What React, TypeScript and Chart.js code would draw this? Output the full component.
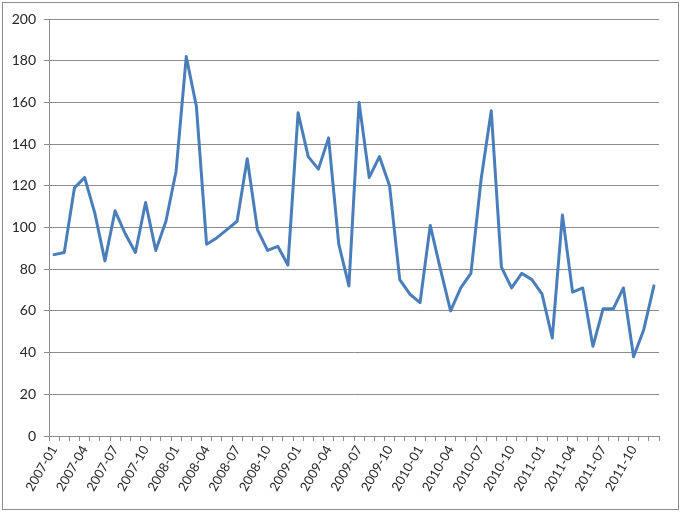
import React, { useEffect, useRef } from "react";
import { Chart, registerables } from "chart.js";

Chart.register(...registerables);

const months: string[] = [];
for (let y = 2007; y <= 2011; y++) {
  for (let m = 1; m <= 12; m++) {
    months.push(`${y}-${m < 10 ? "0" + m : m}`);
  }
}

const values: number[] = [
  87, 88, 119, 124, 107, 84, 108, 97, 88, 112, 89, 103,
  127, 182, 158, 92, 95, 99, 103, 133, 99, 89, 91, 82,
  155, 134, 128, 143, 92, 72, 160, 124, 134, 120, 75, 68,
  64, 101, 80, 60, 71, 78, 123, 156, 81, 71, 78, 75,
  68, 47, 106, 69, 71, 43, 61, 61, 71, 38, 51, 72,
];

const yMin = 0;
const yMax = 200;
const yStep = 20;

const borderPlugin = {
  id: "outerBorder",
  afterDraw(chart: any) {
    const ctx = chart.ctx;
    ctx.save();
    ctx.strokeStyle = "#8c8c8c";
    ctx.lineWidth = 1;
    ctx.strokeRect(2.5, 2.5, chart.width - 5, chart.height - 5);
    ctx.restore();
  },
};

export default function App() {
  const ref = useRef<HTMLCanvasElement | null>(null);
  useEffect(() => {
    document.body.style.margin = "0";
    if (!ref.current) return;
    const chart = new Chart(ref.current, {
      type: "line",
      data: {
        labels: months,
        datasets: [
          {
            data: values,
            borderColor: "#4a7ebb",
            borderWidth: 3,
            borderJoinStyle: "round",
            borderCapStyle: "round",
            pointRadius: 0,
            tension: 0,
            fill: false,
          },
        ],
      },
      options: {
        animation: false,
        responsive: false,
        maintainAspectRatio: false,
        plugins: { legend: { display: false }, tooltip: { enabled: false } },
        layout: { padding: { left: 0, right: 22, top: 19, bottom: 0 } },
        scales: {
          x: {
            type: "category",
            offset: true,
            grid: {
              offset: true,
              drawOnChartArea: false,
              drawTicks: true,
              tickLength: 5,
              color: "#8c8c8c",
            },
            border: { color: "#8c8c8c", width: 1 },
            ticks: {
              autoSkip: false,
              maxRotation: 60,
              minRotation: 60,
              padding: 2,
              color: "#262626",
              font: { family: "Lato", size: 13 },
              callback: (_v: any, i: number) => (i % 3 === 0 ? months[i] : ""),
            },
            afterFit: (s: any) => {
              s.height = 512 - 436;
            },
          },
          y: {
            min: yMin,
            max: yMax,
            grid: { color: "#8c8c8c", tickLength: 5, drawTicks: true },
            border: { color: "#8c8c8c", width: 1 },
            ticks: {
              stepSize: yStep,
              padding: 8,
              color: "#262626",
              font: { family: "Lato", size: 14 },
            },
            afterFit: (s: any) => {
              s.width = 49;
            },
          },
        },
      },
      plugins: [borderPlugin],
    });
    return () => chart.destroy();
  }, []);
  return (
    <div style={{ width: 681, height: 512 }}>
      <canvas ref={ref} width={681} height={512} style={{ display: "block" }} />
    </div>
  );
}
